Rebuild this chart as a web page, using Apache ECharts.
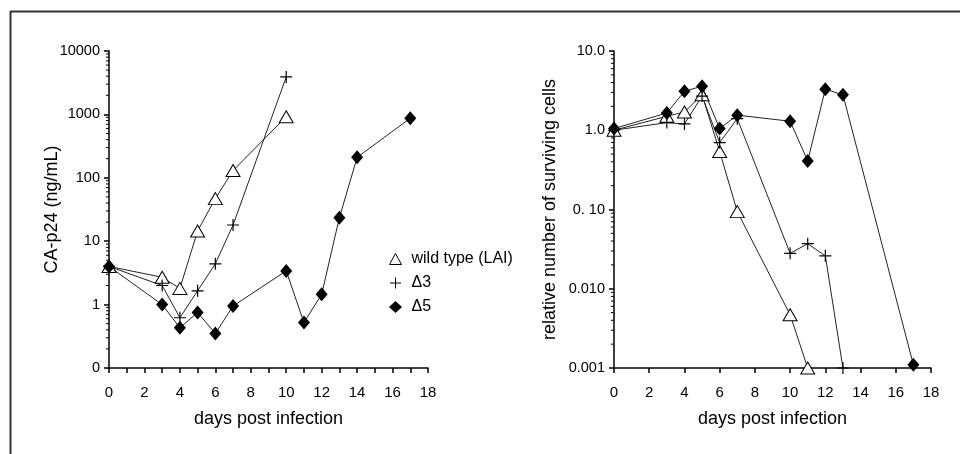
<!DOCTYPE html>
<html lang="en">
    <head>
        <meta charset="UTF-8">
        <title>CA-p24 and surviving cells</title>
        <style>
            html, body { margin: 0; padding: 0; background: #fff; }
        </style>
    </head>
    <body>
        <div id="main" style="width: 960px;height:454px;"></div>
        <script src="https://cdn.jsdelivr.net/npm/echarts@6/dist/echarts.min.js"></script>
        <script type="text/javascript">
            // left panel: CA-p24 (ng/mL)
            var wtDaysA = [0, 3, 4, 5, 6, 7, 10];
            var wtP24 = [4.0, 2.7, 1.8, 14.5, 47, 130, 920];
            var d3DaysA = [0, 3, 4, 5, 6, 7, 10];
            var d3P24 = [4.0, 2.0, 0.62, 1.65, 4.4, 18, 3900];
            var d5DaysA = [0, 3, 4, 5, 6, 7, 10, 11, 12, 13, 14, 17];
            var d5P24 = [4.0, 1.0, 0.43, 0.75, 0.35, 0.95, 3.4, 0.52, 1.45, 23.5, 210, 870];

            // right panel: relative number of surviving cells
            var wtDaysB = [0, 3, 4, 5, 6, 7, 10, 11];
            var wtCells = [1.0, 1.5, 1.7, 2.8, 0.54, 0.094, 0.0047, 0.001];
            var d3DaysB = [0, 3, 4, 5, 6, 7, 10, 11, 12, 13];
            var d3Cells = [1.0, 1.25, 1.2, 2.7, 0.7, 1.4, 0.028, 0.037, 0.026, 0.001];
            var d5DaysB = [0, 3, 4, 5, 6, 7, 10, 11, 12, 13, 17];
            var d5Cells = [1.05, 1.65, 3.1, 3.6, 1.05, 1.55, 1.3, 0.41, 3.3, 2.8, 0.0011];

            var names = ['wild type (LAI)', 'Δ3', 'Δ5'];
            var leftTicks = {0.1: '0', 1: '1', 10: '10', 100: '100', 1000: '1000', 10000: '10000'};
            var rightTicks = {0.001: '0.001', 0.01: '0.010', 0.1: '0. 10', 1: '1.0', 10: '10.0'};

            var plusPath = 'path://M5,0L5,10M0,5L10,5';
            var font = 'Liberation Sans, Arial, sans-serif';

            function pairs(xs, ys) {
                return xs.map(function (x, i) { return [x, ys[i]]; });
            }
            function labelFor(map) {
                return function (v) {
                    for (var k in map) {
                        if (Math.abs(Math.log10(v) - Math.log10(+k)) < 1e-6) return map[k];
                    }
                    return '';
                };
            }

            var container = document.getElementById('main');
            var myChart = echarts.init(container);

            var styles = [
                {symbol: 'triangle', symbolSize: [14, 12], itemStyle: {color: '#fff', borderColor: '#000', borderWidth: 1}},
                {symbol: plusPath, symbolSize: 12, itemStyle: {color: '#000', borderColor: '#000', borderWidth: 1.2}},
                {symbol: 'diamond', symbolSize: [12, 14], itemStyle: {color: '#000', borderColor: '#000', borderWidth: 0}}
            ];

            function makeSeries(name, idx, data, style) {
                return {
                    name: name,
                    type: 'line',
                    xAxisIndex: idx,
                    yAxisIndex: idx,
                    data: data,
                    symbol: style.symbol,
                    symbolSize: style.symbolSize,
                    itemStyle: style.itemStyle,
                    lineStyle: {color: '#222', width: 1},
                    clip: false,
                    z: idx === 0 ? 2 : 3
                };
            }

            function xAxis(grid, everyDay) {
                return {
                    type: 'value',
                    gridIndex: grid,
                    min: 0,
                    max: 18,
                    interval: everyDay ? 1 : 2,
                    name: 'days post infection',
                    nameLocation: 'middle',
                    nameGap: 42,
                    nameTextStyle: {fontSize: 18, color: '#000', fontFamily: font},
                    axisLine: {lineStyle: {color: '#000', width: 1.5}},
                    axisTick: {length: 5, lineStyle: {color: '#000', width: 1.5}},
                    axisLabel: {
                        fontSize: 15, color: '#000', fontFamily: font, margin: 17,
                        formatter: function (v) { return v % 2 === 0 ? String(v) : ''; }
                    },
                    splitLine: {show: false}
                };
            }

            function yAxis(grid, min, max, split, name, gap, map) {
                return {
                    type: 'log',
                    logBase: 10,
                    gridIndex: grid,
                    min: min,
                    max: max,
                    splitNumber: split,
                    name: name,
                    nameLocation: 'middle',
                    nameGap: gap,
                    nameMoveOverlap: false,
                    nameTextStyle: {fontSize: 18, color: '#000', fontFamily: font},
                    axisLine: {lineStyle: {color: '#000', width: 1.5}},
                    axisTick: {length: 5, lineStyle: {color: '#000', width: 1.5}},
                    axisLabel: {fontSize: 14.5, color: '#000', fontFamily: font, margin: 9, formatter: labelFor(map)},
                    splitLine: {show: false}
                };
            }

            var option = {
                animation: false,
                textStyle: {fontFamily: font},
                grid: [
                    {left: 109, right: 532, top: 51, bottom: 86},
                    {left: 614, right: 29, top: 51, bottom: 86}
                ],
                xAxis: [xAxis(0, true), xAxis(1, false)],
                yAxis: [
                    yAxis(0, 0.1, 10000, 5, 'CA-p24 (ng/mL)', 48, leftTicks),
                    yAxis(1, 0.001, 10, 4, 'relative number of surviving cells', 55, rightTicks)
                ],
                legend: {
                    orient: 'vertical',
                    left: 384,
                    top: 246,
                    itemWidth: 12,
                    itemHeight: 11,
                    itemGap: 8,
                    selectedMode: false,
                    itemStyle: {borderWidth: 1},
                    textStyle: {fontSize: 16, color: '#000', fontFamily: font, padding: [0, 0, 0, 5]},
                    data: [
                        {name: names[0], icon: 'triangle'},
                        {name: names[1], icon: plusPath},
                        {name: names[2], icon: 'diamond'}
                    ]
                },
                series: [
                    makeSeries(names[0], 0, pairs(wtDaysA, wtP24), styles[0]),
                    makeSeries(names[1], 0, pairs(d3DaysA, d3P24), styles[1]),
                    makeSeries(names[2], 0, pairs(d5DaysA, d5P24), styles[2]),
                    makeSeries(names[0], 1, pairs(wtDaysB, wtCells), styles[0]),
                    makeSeries(names[1], 1, pairs(d3DaysB, d3Cells), styles[1]),
                    makeSeries(names[2], 1, pairs(d5DaysB, d5Cells), styles[2])
                ]
            };
            myChart.setOption(option);

            // log minor ticks (2..9 in each decade) placed with the axis scale
            var elements = [];
            function minorTicks(grid, lo, hi) {
                for (var e = lo; e < hi; e++) {
                    for (var m = 2; m <= 9; m++) {
                        var v = m * Math.pow(10, e);
                        var p = myChart.convertToPixel({gridIndex: grid}, [0, v]);
                        elements.push({
                            type: 'line',
                            shape: {x1: p[0] - 3, y1: p[1], x2: p[0], y2: p[1]},
                            style: {stroke: '#000', lineWidth: 1}
                        });
                    }
                }
            }
            minorTicks(0, -1, 4);
            minorTicks(1, -3, 1);

            // frame around the figure
            elements.push({type: 'line', shape: {x1: 10, y1: 11.5, x2: 960, y2: 11.5}, style: {stroke: '#333', lineWidth: 2}});
            elements.push({type: 'line', shape: {x1: 10.5, y1: 11, x2: 10.5, y2: 454}, style: {stroke: '#333', lineWidth: 2}});

            myChart.setOption({graphic: elements});
        </script>
    </body>
</html>
